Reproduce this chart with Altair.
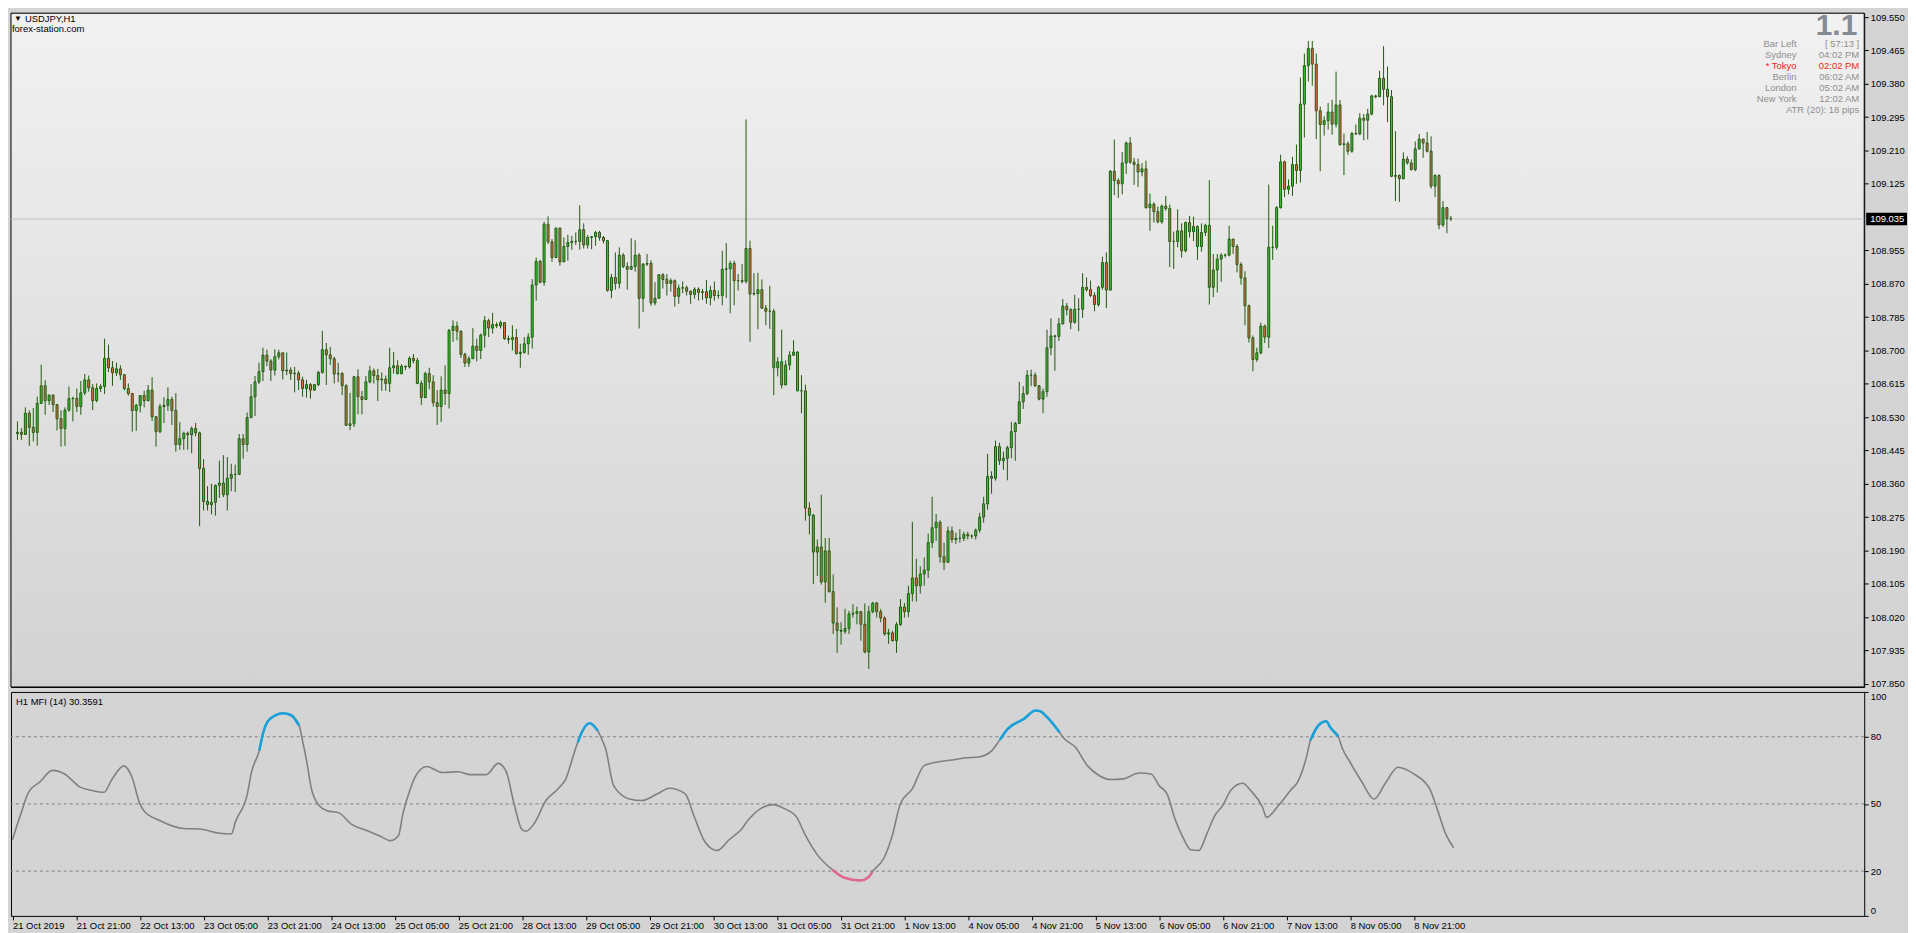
import altair as alt
import pandas as pd

# ---------------- data ----------------
SYMBOL = "USDJPY,H1"
SITE = "forex-station.com"
OPEN0 = 108.488
CLOSE = [
108.491,108.486,108.540,108.504,108.491,108.565,108.610,108.572,108.586,108.562,108.526,108.501,108.548,108.577,108.578,108.557,
108.592,108.625,108.605,108.572,108.603,108.608,108.680,108.656,108.643,108.653,108.638,108.603,108.590,108.547,108.560,108.585,
108.572,108.599,108.531,108.493,108.557,108.560,108.575,108.547,108.460,108.475,108.489,108.485,108.501,108.490,108.399,108.315,
108.307,108.313,108.356,108.362,108.332,108.374,108.384,108.384,108.475,108.460,108.529,108.582,108.620,108.646,108.688,108.673,
108.650,108.684,108.694,108.648,108.650,108.641,108.642,108.625,108.603,108.613,108.599,108.613,108.644,108.702,108.689,108.679,
108.640,108.641,108.610,108.509,108.513,108.633,108.582,108.575,108.620,108.648,108.636,108.625,108.627,108.616,108.656,108.661,
108.641,108.660,108.658,108.680,108.674,108.616,108.580,108.641,108.620,108.567,108.557,108.599,108.590,108.751,108.762,108.749,
108.690,108.668,108.679,108.711,108.700,108.739,108.776,108.757,108.766,108.763,108.771,108.730,108.728,108.733,108.692,108.695,
108.717,108.734,108.867,108.927,108.874,109.022,108.977,108.937,109.012,108.926,108.965,108.975,108.978,108.978,109.008,108.969,
108.988,108.990,109.001,108.988,108.980,108.853,108.886,108.871,108.943,108.914,108.907,108.914,108.943,108.833,108.920,108.922,
108.821,108.833,108.893,108.881,108.871,108.878,108.838,108.859,108.860,108.851,108.843,108.856,108.848,108.850,108.834,108.853,
108.840,108.840,108.907,108.908,108.922,108.878,108.878,108.876,108.960,108.844,108.845,108.855,108.808,108.800,108.800,108.656,
108.671,108.612,108.663,108.688,108.696,108.597,108.597,108.298,108.280,108.186,108.199,108.110,108.189,108.085,108.005,107.986,
107.984,107.991,108.028,108.030,108.034,108.002,107.931,108.034,108.056,108.034,108.018,107.977,107.980,107.960,108.001,108.046,
108.034,108.080,108.120,108.100,108.130,108.140,108.210,108.248,108.262,108.174,108.160,108.240,108.218,108.221,108.221,108.231,
108.227,108.227,108.242,108.275,108.309,108.379,108.374,108.455,108.419,108.425,108.452,108.493,108.514,108.569,108.590,108.637,
108.637,108.610,108.576,108.595,108.707,108.737,108.736,108.768,108.813,108.804,108.772,108.805,108.805,108.861,108.855,108.840,
108.817,108.861,108.924,108.854,109.157,109.133,109.125,109.178,109.229,109.180,109.174,109.155,109.163,109.064,109.073,109.054,
109.028,109.068,109.062,108.978,108.978,109.005,108.954,109.026,109.003,109.016,108.965,109.001,109.019,108.861,108.905,108.933,
108.943,108.943,108.984,108.965,108.919,108.885,108.814,108.732,108.677,108.694,108.762,108.734,108.963,108.963,109.064,109.181,
109.111,109.119,109.174,109.159,109.328,109.426,109.470,109.430,109.311,109.276,109.286,109.308,109.277,109.326,109.225,109.227,
109.208,109.253,109.252,109.292,109.287,109.303,109.349,109.347,109.394,109.366,109.347,109.144,109.146,109.138,109.188,109.178,
109.161,109.214,109.239,109.229,109.208,109.119,109.146,109.020,109.064,109.036,109.036]
HIGH = [
108.519,108.502,108.555,108.547,108.553,108.582,108.664,108.624,108.588,108.588,108.561,108.547,108.555,108.608,108.582,108.603,
108.622,108.640,108.636,108.614,108.616,108.614,108.730,108.715,108.673,108.669,108.662,108.640,108.616,108.592,108.564,108.586,
108.597,108.612,108.632,108.533,108.564,108.581,108.606,108.582,108.591,108.517,108.493,108.493,108.506,108.515,108.493,108.423,
108.354,108.360,108.358,108.419,108.433,108.428,108.411,108.409,108.487,108.487,108.542,108.614,108.635,108.669,108.707,108.702,
108.678,108.703,108.702,108.692,108.695,108.657,108.658,108.648,108.633,108.625,108.617,108.614,108.648,108.750,108.719,108.709,
108.684,108.669,108.645,108.614,108.592,108.635,108.652,108.597,108.635,108.661,108.654,108.653,108.644,108.636,108.707,108.696,
108.675,108.665,108.658,108.685,108.691,108.681,108.623,108.646,108.656,108.637,108.599,108.634,108.662,108.755,108.777,108.774,
108.751,108.694,108.685,108.757,108.730,108.743,108.788,108.781,108.796,108.772,108.776,108.771,108.738,108.764,108.755,108.717,
108.734,108.744,108.882,108.937,108.931,109.028,109.042,108.984,109.013,109.013,108.988,108.995,108.992,109.001,109.070,109.024,
108.994,108.992,109.005,109.005,108.992,108.982,108.895,108.950,108.963,108.948,108.925,108.986,108.981,108.948,108.923,108.946,
108.930,108.874,108.895,108.897,108.895,108.884,108.881,108.868,108.876,108.865,108.853,108.861,108.861,108.857,108.880,108.865,
108.876,108.853,108.954,108.974,108.929,108.929,108.895,108.920,109.289,108.980,108.897,108.898,108.881,108.816,108.865,108.806,
108.683,108.753,108.675,108.698,108.726,108.698,108.637,108.613,108.313,108.283,108.218,108.332,108.222,108.222,108.129,108.045,
108.007,108.041,108.036,108.053,108.047,108.036,108.055,108.049,108.059,108.059,108.041,108.022,107.990,107.985,108.007,108.066,
108.056,108.100,108.263,108.169,108.150,108.172,108.233,108.327,108.283,108.267,108.210,108.251,108.251,108.235,108.244,108.238,
108.238,108.231,108.246,108.286,108.327,108.436,108.392,108.470,108.465,108.442,108.457,108.518,108.518,108.620,108.609,108.650,
108.651,108.644,108.612,108.603,108.753,108.782,108.740,108.783,108.831,108.821,108.808,108.842,108.833,108.897,108.886,108.878,
108.848,108.865,108.939,108.950,109.160,109.238,109.139,109.206,109.233,109.244,109.191,109.189,109.178,109.184,109.100,109.078,
109.067,109.072,109.094,109.072,109.003,109.060,109.024,109.029,109.043,109.041,109.019,109.024,109.023,109.134,108.946,108.946,
108.948,108.947,109.018,108.984,108.971,108.925,108.902,108.817,108.738,108.707,108.771,108.766,109.123,109.018,109.068,109.199,
109.184,109.136,109.194,109.225,109.396,109.457,109.489,109.489,109.457,109.322,109.297,109.331,109.339,109.411,109.339,109.253,
109.233,109.257,109.276,109.305,109.303,109.316,109.352,109.352,109.413,109.476,109.424,109.364,109.259,109.149,109.205,109.195,
109.187,109.233,109.252,109.233,109.257,109.246,109.149,109.149,109.081,109.066,109.043]
LOW = [
108.472,108.472,108.485,108.457,108.468,108.457,108.564,108.536,108.561,108.543,108.496,108.455,108.457,108.544,108.519,108.543,
108.536,108.586,108.595,108.548,108.568,108.594,108.589,108.645,108.610,108.635,108.625,108.598,108.585,108.493,108.495,108.542,
108.555,108.570,108.520,108.455,108.489,108.515,108.546,108.510,108.442,108.447,108.447,108.447,108.438,108.481,108.252,108.292,
108.292,108.282,108.279,108.324,108.326,108.292,108.341,108.339,108.383,108.424,108.442,108.527,108.533,108.614,108.622,108.660,
108.622,108.636,108.677,108.626,108.637,108.625,108.593,108.599,108.582,108.580,108.577,108.597,108.609,108.641,108.612,108.663,
108.616,108.619,108.586,108.508,108.497,108.505,108.537,108.537,108.574,108.616,108.616,108.571,108.597,108.597,108.594,108.641,
108.639,108.639,108.650,108.654,108.667,108.614,108.561,108.578,108.601,108.557,108.510,108.518,108.561,108.552,108.722,108.726,
108.681,108.658,108.658,108.688,108.672,108.678,108.707,108.734,108.743,108.757,108.756,108.727,108.717,108.700,108.689,108.656,
108.692,108.689,108.705,108.827,108.871,108.865,108.971,108.926,108.935,108.916,108.926,108.929,108.957,108.969,108.957,108.960,
108.960,108.958,108.967,108.980,108.973,108.850,108.833,108.855,108.858,108.910,108.855,108.906,108.901,108.756,108.798,108.916,
108.814,108.815,108.832,108.858,108.840,108.850,108.812,108.819,108.846,108.840,108.819,108.832,108.827,108.829,108.819,108.815,
108.827,108.832,108.815,108.834,108.795,108.815,108.853,108.871,108.871,108.722,108.840,108.754,108.806,108.764,108.755,108.586,
108.634,108.603,108.614,108.650,108.686,108.596,108.540,108.266,108.231,108.104,108.125,108.103,108.057,108.083,107.977,107.929,
107.950,107.977,107.977,108.019,108.002,107.960,107.928,107.888,108.030,108.019,108.007,107.973,107.952,107.958,107.929,107.998,
108.019,108.020,108.060,108.060,108.080,108.100,108.120,108.196,108.214,108.159,108.140,108.183,108.210,108.207,108.210,108.214,
108.218,108.220,108.218,108.235,108.261,108.294,108.335,108.368,108.408,108.396,108.369,108.425,108.419,108.513,108.551,108.586,
108.609,108.607,108.573,108.540,108.582,108.688,108.648,108.724,108.766,108.789,108.754,108.768,108.749,108.783,108.850,108.836,
108.800,108.812,108.855,108.808,108.853,109.096,109.089,109.098,109.150,109.176,109.122,109.117,109.144,109.062,109.005,109.026,
109.024,109.023,109.056,108.913,108.908,108.963,108.937,108.950,108.988,108.979,108.931,108.952,108.992,108.817,108.836,108.848,
108.875,108.937,108.940,108.946,108.899,108.868,108.764,108.720,108.647,108.671,108.690,108.719,108.706,108.931,108.957,109.062,
109.091,109.098,109.094,109.125,109.128,109.243,109.386,109.375,109.239,109.157,109.248,109.263,109.250,109.269,109.222,109.147,
109.199,109.204,109.250,109.249,109.236,109.238,109.299,109.343,109.346,109.325,109.282,109.142,109.081,109.079,109.136,109.174,
109.159,109.157,109.212,109.191,109.205,109.113,109.091,109.009,109.015,108.999,109.030]
CURRENT = 109.035
PRICE_TICKS = [109.550, 109.465, 109.380, 109.295, 109.210, 109.125, 108.955, 108.870, 108.785,
               108.700, 108.615, 108.530, 108.445, 108.360, 108.275, 108.190, 108.105, 108.020,
               107.935, 107.850]
DATE_LABELS = ["21 Oct 2019", "21 Oct 21:00", "22 Oct 13:00", "23 Oct 05:00", "23 Oct 21:00",
               "24 Oct 13:00", "25 Oct 05:00", "25 Oct 21:00", "28 Oct 13:00", "29 Oct 05:00",
               "29 Oct 21:00", "30 Oct 13:00", "31 Oct 05:00", "31 Oct 21:00", "1 Nov 13:00",
               "4 Nov 05:00", "4 Nov 21:00", "5 Nov 13:00", "6 Nov 05:00", "6 Nov 21:00",
               "7 Nov 13:00", "8 Nov 05:00", "8 Nov 21:00"]
LABEL_STEP = 16

MFI_BAR = [0,2,4,7,10,13,17,20,23,25,28,30,32,33,37,43,47,52,55,56,59,60,62,63,64,66,68,70,72,73,74,75,
           77,79,82,85,89,92,95,97,98,100,101,104,108,112,115,119,122,124,126,128,129,131,134,137,139,141,
           142,143,145,147,148,149,151,155,158,162,165,169,171,174,177,180,183,185,188,191,194,197,199,202,
           206,209,213,215,216,219,221,223,226,229,232,236,239,243,246,248,250,254,257,258,260,263,264,267,
           270,273,276,279,283,286,288,290,292,294,296,298,300,302,304,306,309,311,314,315,318,321,323,325,
           326,328,330,331,333,334,336,339,342,345,348,352,356,358,360,362]
MFI_VAL = [34,45,55,60,65,63.5,57.5,56,55.2,61,67,62,50,47,42.6,39,38.8,36.9,36.6,42,54.5,64,73.8,82,86.5,
           89.5,90.5,89.6,85,77,68,57.4,49.3,47,46,41.1,38.1,35.9,33.6,36,45,57,61.5,66.7,64,64.4,63.1,63.1,
           68.1,64.5,50,38.5,37.8,41.1,51.5,56.7,61.2,72.3,77.5,82,86,82.7,79,74.5,58.2,52.2,51.5,54.5,57,54.5,
           45.5,32.9,29.2,34,38.5,43.3,48,49.7,47.8,44,36.6,27.7,20.5,17,15.8,17.3,19.8,26.2,35.9,50,56.7,67.1,
           68.6,69.6,70.5,71.1,73.8,78.6,83.5,87.9,91.7,91.5,88.5,82,79.5,75.3,67.1,62.6,60.9,61.2,63.8,63.4,
           58.2,54.5,43.3,35.1,29.5,29.2,36.6,44.8,49.3,56,59.2,56,48.5,44,49.3,56,60.4,70.8,78.3,85,86.9,84.2,
           80.2,75,68.6,59.7,52.2,59.7,66.4,63.4,56.7,47,36.6,30.4]
MFI_TITLE = "H1 MFI (14) 30.3591"
MFI_LEVELS = [20, 50, 80]
MFI_TICKS = [0, 20, 50, 80, 100]

INFO_BIG = "1.1"
INFO_LABELS = ["Bar Left", "Sydney", "* Tokyo", "Berlin", "London", "New York"]
INFO_VALUES = ["[ 57:13 ]", "04:02 PM", "02:02 PM", "06:02 AM", "05:02 AM", "12:02 AM"]
INFO_ATR = "ATR (20): 18 pips"

# ---------------- style ----------------
FONT = "Liberation Sans"
FS = 9.5
W, H1, H2 = 1862, 677, 225
XDOM = [-0.375, 465.125]
PDOM = [107.842, 109.560]
OUTLINE = "#22590f"
BULL = "#3cc43a"
BEAR = "#e0704e"

opens = [OPEN0] + CLOSE[:-1]
rows = []
for i, (o, c, h, l) in enumerate(zip(opens, CLOSE, HIGH, LOW)):
    rows.append(dict(i=i, open=o, close=c, high=max(h, o, c), low=min(l, o, c),
                     dir="up" if c >= o else "down"))
candles = pd.DataFrame(rows)

xs = alt.Scale(domain=XDOM, nice=False, zero=False)
ys = alt.Scale(domain=PDOM, nice=False, zero=False)
one = pd.DataFrame({"k": [0]})

price_axis = alt.Axis(orient="right", values=PRICE_TICKS, format=".3f", tickSize=4, labelPadding=2,
                      title=None, labelOverlap=False, labelBound=False, labelFlush=False)

bg = alt.Chart(one).mark_rect(
    fill=alt.LinearGradient(gradient="linear",
                            stops=[alt.GradientStop(color="#f1f1f1", offset=0),
                                   alt.GradientStop(color="#d3d3d3", offset=1)],
                            x1=0, x2=0, y1=0, y2=1),
    stroke="black", strokeWidth=1
).encode(x=alt.value(0), x2=alt.value(W), y=alt.value(0), y2=alt.value(H1))

cur = pd.DataFrame({"p": [CURRENT]})
cur_line = alt.Chart(cur).mark_rule(color="#c0c0c0", strokeWidth=1).encode(
    y=alt.Y("p:Q", scale=ys, axis=price_axis))

wicks = alt.Chart(candles).mark_rule(color=OUTLINE, strokeWidth=1).encode(
    x=alt.X("i:Q", scale=xs, axis=None), y=alt.Y("low:Q", scale=ys, axis=price_axis), y2="high:Q")

bodies = alt.Chart(candles).mark_bar(size=2, stroke=OUTLINE, strokeWidth=1).encode(
    x=alt.X("i:Q", scale=xs, axis=None), y=alt.Y("open:Q", scale=ys, axis=price_axis), y2="close:Q",
    color=alt.Color("dir:N", scale=alt.Scale(domain=["up", "down"], range=[BULL, BEAR]), legend=None))

cur_box = alt.Chart(cur).transform_calculate(lo="datum.p - 0.016", hi="datum.p + 0.016").mark_rect(
    color="black").encode(x=alt.value(W + 2), x2=alt.value(W + 43),
                          y=alt.Y("lo:Q", scale=ys, axis=price_axis), y2="hi:Q")
cur_txt = alt.Chart(cur).mark_text(align="left", baseline="middle", color="white", font=FONT,
                                   fontSize=FS).encode(
    x=alt.value(W + 6), y=alt.Y("p:Q", scale=ys, axis=price_axis), text=alt.Text("p:Q", format=".3f"))

def txt(s, x, y, align="left", color="black", size=FS, weight="normal", baseline="middle"):
    return alt.Chart(one).mark_text(text=s, align=align, baseline=baseline, color=color, font=FONT,
                                    fontSize=size, fontWeight=weight).encode(
        x=alt.value(x), y=alt.value(y))

texts = [txt("\u25bc", 3, 6, size=8), txt(SYMBOL, 14, 6), txt(SITE, 1, 16),
         txt(INFO_BIG, W - 7, 22, align="right", color="#858b94", size=30, weight="bold",
             baseline="alphabetic")]
info_y = [31, 42, 53, 64, 75, 86]
for lab, val, yy in zip(INFO_LABELS, INFO_VALUES, info_y):
    col = "#f01c1c" if "Tokyo" in lab else "#8e8e8e"
    texts.append(txt(lab, W - 68, yy, align="right", color=col))
    texts.append(txt(val, W - 5, yy, align="right", color=col))
texts.append(txt(INFO_ATR, W - 5, 97, align="right", color="#8e8e8e"))

main = alt.layer(bg, cur_line, wicks, bodies, cur_box, cur_txt, *texts).properties(width=W, height=H1)

# ---------------- MFI panel ----------------
def flag_groups(vals, test):
    g, gid, prev = [], 0, False
    for k, v in enumerate(vals):
        f = test(v) or (k + 1 < len(vals) and test(vals[k + 1]))
        if f and not prev:
            gid += 1
        g.append(gid if f else None)
        prev = f
    return g

mfi = pd.DataFrame({"bar": MFI_BAR, "v": MFI_VAL})
mfi["hi"] = flag_groups(MFI_VAL, lambda v: v >= 80)
mfi["lo"] = flag_groups(MFI_VAL, lambda v: v <= 20)

x_axis = alt.Axis(
    values=[k * LABEL_STEP for k in range(len(DATE_LABELS))],
    labelExpr="[" + ",".join("'%s'" % s for s in DATE_LABELS) + "][datum.value / %d]" % LABEL_STEP,
    labelAlign="left", tickSize=4, labelPadding=1, title=None, labelOverlap=False, labelBound=False)
mfi_axis = alt.Axis(orient="right", values=MFI_TICKS, labelFlush=True, tickSize=4,
                    labelPadding=2, title=None, labelOverlap=False)
mscale_y = alt.Scale(domain=[0, 100], nice=False, zero=False)
mx = alt.X("bar:Q", scale=xs, axis=x_axis)
my = alt.Y("v:Q", scale=mscale_y, axis=mfi_axis)

lv = alt.Chart(pd.DataFrame({"v": MFI_LEVELS})).mark_rule(
    color="#808080", strokeDash=[3, 3], strokeWidth=1).encode(y=my)
gline = alt.Chart(mfi).mark_line(color="#808080", strokeWidth=1.6, interpolate="monotone").encode(x=mx, y=my)
bline = alt.Chart(mfi).transform_filter("datum.hi != null").mark_line(
    color="#17a0da", strokeWidth=2.6, interpolate="monotone").encode(x=mx, y=my, detail="hi:N")
pline = alt.Chart(mfi).transform_filter("datum.lo != null").mark_line(
    color="#e0688c", strokeWidth=2.6, interpolate="monotone").encode(x=mx, y=my, detail="lo:N")
mtitle = txt(MFI_TITLE, 5, 10)

lower = alt.layer(lv, gline, bline, pline, mtitle).properties(width=W, height=H2)

chart = alt.vconcat(main, lower, spacing=2).properties(padding=0, background="#d4d4d4").configure_view(
    stroke="black", strokeWidth=1, fill="#d4d4d4").configure_axis(
    labelFont=FONT, labelFontSize=FS, labelColor="black", tickColor="black", domain=False, grid=False,
    labelOverlap=False)

chart.save("out.html", embed_options={"renderer": "svg", "actions": False})
